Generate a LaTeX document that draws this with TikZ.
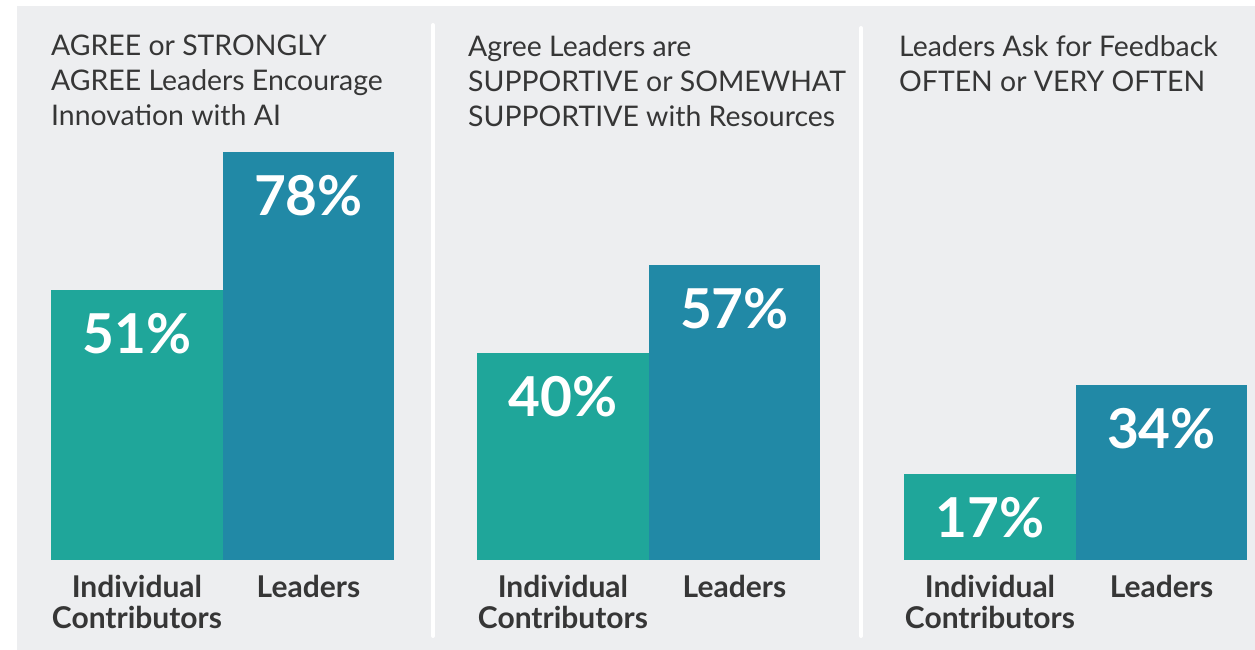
\documentclass[tikz,border=0pt]{standalone}
\usepackage{fontspec}
\setmainfont{Lato}
\usetikzlibrary{positioning}

\definecolor{panelgray}{HTML}{EDEEF0}
\definecolor{icteal}{HTML}{1FA69A}
\definecolor{leadblue}{HTML}{2189A6}
\definecolor{inkgray}{HTML}{363636}

\tikzset{
  bar/.style={inner sep=0pt,minimum width=171.5pt,anchor=south west},
  pct/.style={text=white,font=\fontsize{55}{55}\selectfont\bfseries},
  title/.style={inner sep=0pt,anchor=north west,align=left,text=inkgray,
    font=\fontsize{28.4}{35}\selectfont},
  axis/.style={inner sep=0pt,anchor=north,align=center,text=inkgray,
    font=\fontsize{30}{31}\selectfont\bfseries},
  divider/.style={white,line width=4pt,line cap=round}
}

\begin{document}
\begin{tikzpicture}[x=1pt,y=-1pt]
  \useasboundingbox (0,0) rectangle (1255,650);
  \fill[panelgray] (17,6) rectangle (1255,650);
  \draw[divider] (433,25) -- (433,636);
  \draw[divider] (861,28) -- (861,636);

  % panel 1
  \node[title] (t1) at (51,35) {AGREE or STRONGLY\\AGREE Leaders Encourage\\Innovation with AI};
  \node[bar,fill=icteal,minimum height=270pt] (ic1) at (51,560) {};
  \node[bar,fill=leadblue,minimum height=408pt] (ld1) at (222.5,560) {};
  \node[pct] at ([yshift=-44pt]ic1.north) {51\%};
  \node[pct] at ([yshift=-44pt]ld1.north) {78\%};
  \node[axis,below=15pt of ic1.south] (ica1) {Individual\\Contributors};
  \node[axis,below=15pt of ld1.south] (lda1) {Leaders};

  % panel 2
  \node[title] (t2) at (468,35) {Agree Leaders are\\SUPPORTIVE or SOMEWHAT\\SUPPORTIVE with Resources};
  \node[bar,fill=icteal,minimum height=207pt] (ic2) at (477,560) {};
  \node[bar,fill=leadblue,minimum height=295pt] (ld2) at (648.5,560) {};
  \node[pct] at ([yshift=-44pt]ic2.north) {40\%};
  \node[pct] at ([yshift=-44pt]ld2.north) {57\%};
  \node[axis,below=15pt of ic2.south] (ica2) {Individual\\Contributors};
  \node[axis,below=15pt of ld2.south] (lda2) {Leaders};

  % panel 3
  \node[title] (t3) at (899,35) {Leaders Ask for Feedback\\OFTEN or VERY OFTEN};
  \node[bar,fill=icteal,minimum height=86pt] (ic3) at (904,560) {};
  \node[bar,fill=leadblue,minimum height=175pt] (ld3) at (1075.5,560) {};
  \node[pct] at ([yshift=-44pt]ic3.north) {17\%};
  \node[pct] at ([yshift=-44pt]ld3.north) {34\%};
  \node[axis,below=15pt of ic3.south] (ica3) {Individual\\Contributors};
  \node[axis,below=15pt of ld3.south] (lda3) {Leaders};
\end{tikzpicture}
\end{document}
